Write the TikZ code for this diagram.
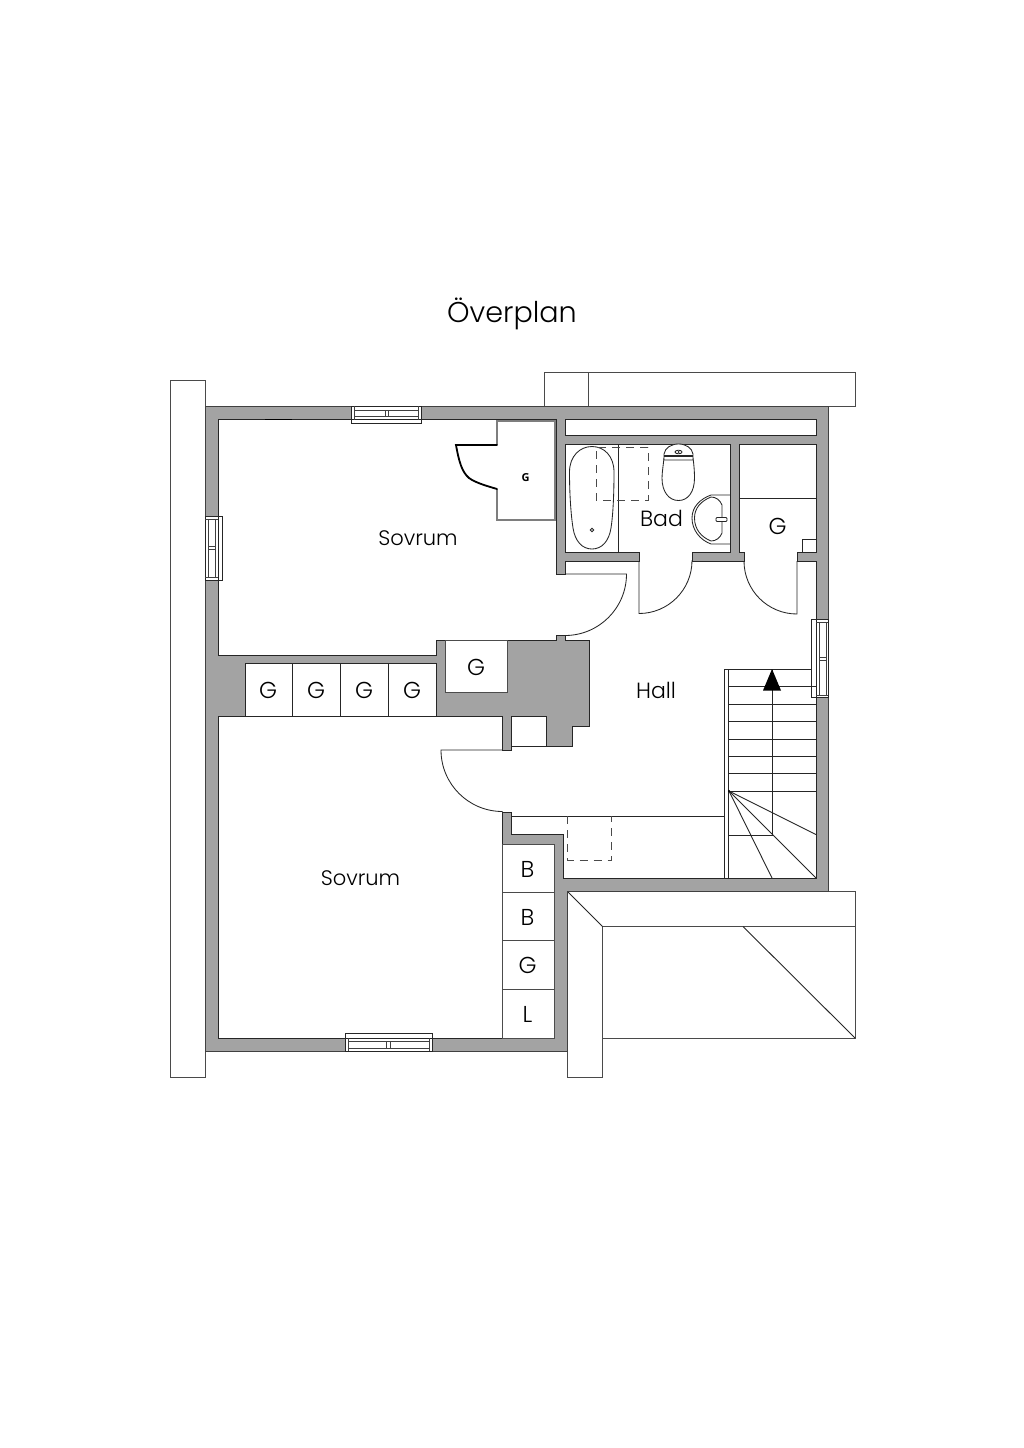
\documentclass[tikz,border=0pt]{standalone}
\usepackage{fontspec}
\setmainfont{Poppins Light}
\definecolor{wallgray}{HTML}{A3A3A3}
\definecolor{thin}{HTML}{4A4A4A}
\definecolor{closetgray}{HTML}{7E7E7E}
\tikzset{
  wall/.style={fill=wallgray,draw=black!75,line width=0.7pt,line join=miter},
  room/.style={fill=white,draw=black!85,line width=1pt,line join=miter},
  line/.style={draw=black!85,line width=0.9pt},
  winthin/.style={draw=black!75,line width=0.65pt},
  roof/.style={fill=white,draw=thin,line width=0.9pt},
  leaf/.style={draw=black!85,line width=0.85pt},
  winline/.style={draw=black!85,line width=0.9pt,fill=white},
  dashbox/.style={draw=thin,line width=0.9pt,dash pattern=on 8pt off 6pt},
  lab/.style={font=\fontsize{21}{21}\selectfont,text=black,inner sep=0pt,anchor=center},
  capslab/.style={lab,font=\fontsize{23}{23}\selectfont},
  wordlab/.style={lab,font=\fontsize{22}{22}\selectfont},
}
\begin{document}
\begin{tikzpicture}[x=1pt,y=-1pt]
\useasboundingbox (0,0) rectangle (1024,1448);
% roof
\draw[roof] (170,380) rectangle (205,1077);
\draw[roof] (544,372) rectangle (855,406);
\draw[line,draw=thin] (588,372) -- (588,406);
\draw[roof] (567,891) -- (855,891) -- (855,1038) -- (602.5,1038) -- (602.5,1077) -- (567,1077) -- cycle;
\draw[line,draw=thin] (602.5,1038) -- (602.5,926.5) -- (855,926.5);
\draw[line] (567,891) -- (602.5,926.5);
\draw[line] (743,926.5) -- (855,1038);
% walls
\draw[wall] (205,406) -- (828,406) -- (828,891) -- (567,891) -- (567,1051) -- (205,1051) -- cycle;
\draw[room] (218,419.5) -- (556,419.5) -- (556,574) -- (565,574) -- (565,561) -- (639,561) -- (639,552) -- (565,552) -- (565,444) -- (730,444) -- (730,552) -- (692,552) -- (692,561) -- (744,561) -- (744,552) -- (739,552) -- (739,444) -- (816,444) -- (816,552) -- (797,552) -- (797,561) -- (816,561) -- (816,878) -- (563,878) -- (563,834) -- (511,834) -- (511,812) -- (502,812) -- (502,1038) -- (218,1038) -- (218,716) -- (502,716) -- (502,750) -- (511,750) -- (511,746) -- (572,746) -- (572,726) -- (589,726) -- (589,640) -- (565,640) -- (565,635) -- (556,635) -- (556,640) -- (436.5,640) -- (436.5,655) -- (218,655) -- cycle;
\draw[room] (565,419.5) rectangle (816,435.5);
% closets
\draw[room,line width=0.9pt] (245,663) rectangle (436.5,716);
\foreach \x in {292.5,340.5,388.5} \draw[line] (\x,663) -- (\x,716);
\draw[room,draw=black!70,line width=0.9pt] (445.5,640) rectangle (507,692);
\draw[room,line width=0.9pt] (511,716) rectangle (546,746);
\draw[room,line width=0.9pt,draw=black!70] (502,844) rectangle (554,1038);
\foreach \y in {892,940.5,989} \draw[line,draw=thin] (502,\y) -- (554,\y);
\draw[line] (739,498) -- (816,498);
\draw[line] (802.5,552) -- (802.5,539.5) -- (816,539.5);
% small closet in bedroom
\draw[draw=closetgray,line width=1.5pt] (497,445) -- (497,421) -- (555,421) -- (555,520) -- (497,520) -- (497,489);
\draw[black,line width=1.8pt,line cap=round] (497,445) -- (456,445) .. controls (459,462) and (462,472) .. (469,478) .. controls (476,483) and (487,486) .. (497,489);
\draw[black,line width=1.8pt] (265,419.5) -- (292,419.5);
% windows
\draw[winline] (351,406) rectangle (421.5,423);
\draw[line] (351,419.5) -- (421.5,419.5);
\draw[winthin] (354,406) -- (354,419.5) (418.5,406) -- (418.5,419.5);
\draw[winthin] (354,410) -- (418.5,410) (354,416) -- (418.5,416);
\draw[winthin] (385,410) -- (385,416) (388,410) -- (388,416);
\draw[winline] (205,516) rectangle (222.5,580);
\draw[line] (218,516) -- (218,580);
\draw[winthin] (205,519) -- (218,519) (205,577) -- (218,577);
\draw[winthin] (208,519) -- (208,577) (215,519) -- (215,577);
\draw[winthin] (208,546) -- (215,546) (208,549) -- (215,549);
\draw[winline] (811,619.5) rectangle (828,697.5);
\draw[line] (816,619.5) -- (816,697.5);
\draw[winthin] (816,622) -- (828,622) (816,695) -- (828,695);
\draw[winthin] (819,622) -- (819,695) (826,622) -- (826,695);
\draw[winthin] (819,657) -- (826,657) (819,660) -- (826,660);
\draw[winline] (345,1033.5) rectangle (432,1051);
\draw[line] (345,1038) -- (432,1038);
\draw[winthin] (348,1038) -- (348,1051) (429,1038) -- (429,1051);
\draw[winthin] (348,1041) -- (429,1041) (348,1048) -- (429,1048);
\draw[winthin] (386.5,1041) -- (386.5,1048) (390,1041) -- (390,1048);
% doors
\draw[leaf] (565,574) -- (626.5,574) arc[start angle=0,end angle=90,radius=61.5];
\draw[leaf] (639,561) -- (639,613.5) arc[start angle=90,end angle=0,radius=53];
\draw[leaf] (797,561) -- (797,614) arc[start angle=90,end angle=180,radius=53];
\draw[leaf] (502,750) -- (441,750) arc[start angle=180,end angle=90,radius=61.5];
% bath
\draw[line] (618.5,444) -- (618.5,552);
\draw[leaf] (592,446.5) .. controls (604,446.5) and (614,456) .. (614,472) .. controls (614,495) and (613,515) .. (611,528) .. controls (609,541) and (602,549) .. (592,549) .. controls (582,549) and (575,541) .. (573,528) .. controls (571,515) and (569.5,495) .. (569.5,472) .. controls (569.5,456) and (580,446.5) .. (592,446.5) -- cycle;
\draw[leaf] (592,530) circle[radius=1.8];
\draw[dashbox] (648,447) -- (596,447) -- (596,500) -- (648,500) -- cycle;
% toilet
\draw[leaf] (664,458) .. controls (662,475) and (662,475) .. (662,478) .. controls (662,492) and (669,500.5) .. (678.5,500.5) .. controls (688,500.5) and (694.5,492) .. (694.5,478) .. controls (694.5,472) and (694,465) .. (693,458);
\draw[leaf,fill=white] (664,460) -- (664,454) .. controls (665,448) and (671,444) .. (678.5,444) .. controls (686,444) and (692,448) .. (693,454) -- (693,460) -- cycle;
\draw[line width=1.2pt,draw=black!85] (664,456) -- (693,456);
\draw[leaf] (678.5,452) ellipse[x radius=3.5,y radius=1.8];
\fill[black!85] (678.5,452) circle[radius=1];
% sink
\draw[leaf] (730,495) -- (711,495) .. controls (700,499) and (692,507) .. (692,518) .. controls (692,530) and (700,540) .. (711,544) -- (730,544);
\draw[leaf] (711,497) .. controls (701,501) and (694.5,508) .. (694.5,518) .. controls (694.5,529) and (701,537) .. (711,541) .. controls (716,541) and (720,538) .. (722,533) -- (722,505) .. controls (720,500) and (716,497) .. (711,497) -- cycle;
\draw[leaf,fill=white,rounded corners=1pt] (716,517.5) rectangle (727,521.5);
% stairs
\draw[line] (724,878) -- (724,669) -- (811,669);
\draw[line] (728.5,669) -- (728.5,878);
\foreach \y in {686.5,704,721.5,739,756.5,773.5,791} \draw[line] (728.5,\y) -- (816,\y);
\draw[line] (772,669) -- (772,835) -- (728.5,835);
\draw[line] (729,791) -- (816,834.5);
\draw[line] (729,791) -- (816,878);
\draw[line] (729,791) -- (772,878);
\fill[black] (729,791) circle[radius=1.2];
\fill[black] (772,669) -- (781,690.5) -- (763,690.5) -- cycle;
% landing
\draw[line] (511,816) -- (724,816);
\draw[dashbox] (567.5,816) -- (567.5,860) -- (611,860) -- (611,816);
% labels
\node[lab,font=\fontsize{28.6}{28.6}\selectfont] (title) at (512,314) {Överplan};
\node[lab] (s1) at (418,538) {Sovrum};
\node[lab] (s2) at (360.5,878) {Sovrum};
\node[wordlab] (bad) at (661.5,518) {Bad};
\node[wordlab] (hall) at (656,690) {Hall};
\node[capslab] (g0) at (777.5,526) {G};
\node[capslab] (g1) at (476,667) {G};
\node[capslab] (g2) at (268,690) {G};
\node[capslab] (g3) at (316,690) {G};
\node[capslab] (g4) at (364,690) {G};
\node[capslab] (g5) at (412,690) {G};
\node[capslab] (b1) at (527.5,869) {B};
\node[capslab] (b2) at (527.5,917) {B};
\node[capslab] (g6) at (527.5,965.5) {G};
\node[capslab] (l1) at (527.5,1014.5) {L};
\node[inner sep=0pt] (g7) at (525.5,478) {\fontsize{11}{11}\selectfont\fontspec{Open Sans}\bfseries G};
\end{tikzpicture}
\end{document}
